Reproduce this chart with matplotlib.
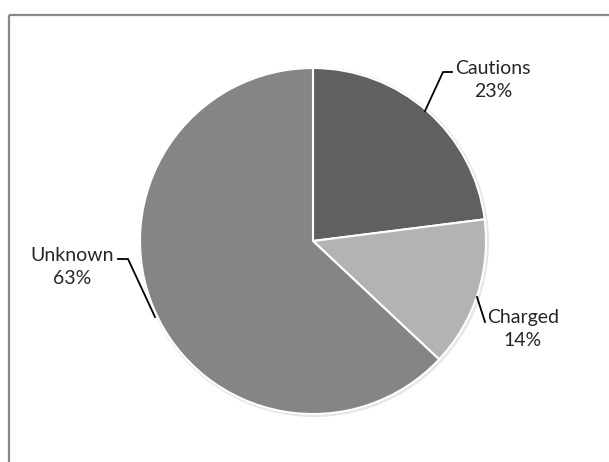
import matplotlib
matplotlib.use("Agg")
import matplotlib.pyplot as plt

labels = ["Cautions", "Charged", "Unknown"]
shares = [23, 14, 63]
colors = ["#606060", "#b3b3b3", "#858585"]

W, H = 609, 462
fig = plt.figure(figsize=(W / 100, H / 100), dpi=100)
ax = fig.add_axes([0, 0, 1, 1])
ax.set_xlim(0, W); ax.set_ylim(0, H); ax.axis("off")

def py(y):  # pixel row -> data y
    return H - y

# chart frame (cropped: only top and left edges visible)
ax.plot([8.5, W], [py(14.5), py(14.5)], color="#888888", lw=1.6, solid_capstyle="butt")
ax.plot([8.5, 8.5], [py(14.5), 0], color="#888888", lw=1.6, solid_capstyle="butt")

# soft shadow ring
ax.pie([1], colors=["#e6e6e6"], radius=175, center=(314, py(242)),
       wedgeprops=dict(linewidth=0), frame=True)
ax.pie(shares, colors=colors, startangle=90, counterclock=False,
       radius=173, center=(313, py(241)),
       wedgeprops=dict(edgecolor="white", linewidth=1.5), frame=True)
ax.set_xlim(0, W); ax.set_ylim(0, H); ax.axis("off")

font = dict(family="Lato", fontsize=14, color="#262626", ha="center", va="center",
            linespacing=1.45)
label_pos = [(493, 80), (523, 329), (72, 267)]
leaders = [[(425, 111), (443, 72), (452, 72)],
           [(477, 297), (485, 322)],
           [(155, 317), (128, 259), (118, 259)]]
for name, v, (x, y), pts in zip(labels, shares, label_pos, leaders):
    ax.text(x, py(y), f"{name}\n{v}%", **font)
    ax.plot([p[0] for p in pts], [py(p[1]) for p in pts], color="black", lw=1.3)

fig.savefig("out.png", dpi=100, facecolor="white")
